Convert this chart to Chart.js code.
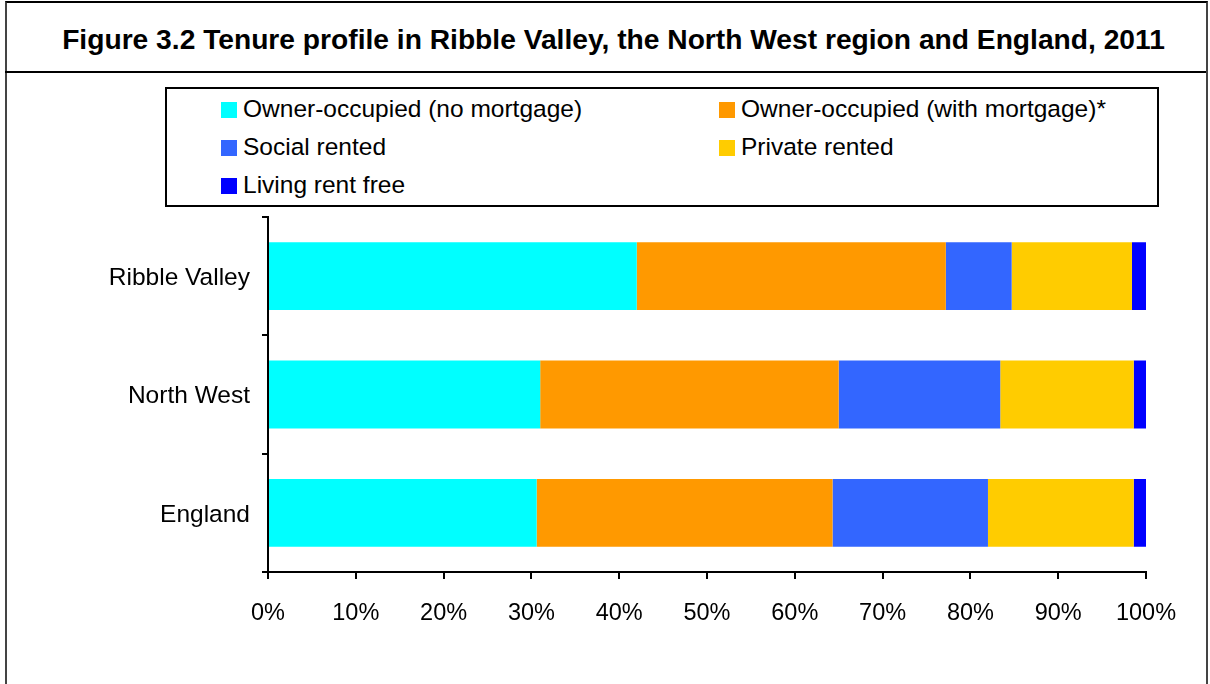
<!DOCTYPE html>
<html>
<head>
<meta charset="utf-8">
<script src="https://cdn.jsdelivr.net/npm/chart.js@4"></script>
<style>
    body { margin: 0; background: #fff; font-family: "Liberation Sans", Arial, sans-serif; }
    #page { position: relative; width: 1210px; height: 684px; overflow: hidden; }
    #frame { position: absolute; left: 5px; top: 1px; width: 1199px; height: 700px;
             border-left: 2px solid #444; border-right: 2px solid #444; border-top: 2px solid #000; }
    #title { position: absolute; left: 5px; top: 3px; width: 1201px; height: 68px; border-bottom: 2px solid #000;
             font-weight: bold; font-size: 28.2px; line-height: 72px; text-align: center; color: #000;
             text-indent: 16px; }
    #legend { position: absolute; left: 165px; top: 87px; width: 990px; height: 116px; border: 2px solid #000; }
    .item { position: absolute; font-size: 24.5px; color: #000; white-space: nowrap; line-height: 24px; }
    .swatch { display: inline-block; width: 16px; height: 16px; margin-right: 6px; vertical-align: -1px; }
    canvas { position: absolute; left: 0; top: 0; }
</style>
</head>
<body>
<div id="page">
    <div id="frame"></div>
    <div id="title">Figure 3.2 Tenure profile in Ribble Valley, the North West region and England, 2011</div>
    <div id="legend"></div>
    <canvas id="chart" width="1210" height="684"></canvas>
</div>
<script>
const categories = ["Ribble Valley", "North West", "England"];
const seriesLabels = ["Owner-occupied (no mortgage)", "Owner-occupied (with mortgage)*",
                      "Social rented", "Private rented", "Living rent free"];
const seriesColors = ["#00FFFF", "#FF9900", "#3366FF", "#FFCC00", "#0000FF"];

const ownedOutright = [42.0, 31.0, 30.6];
const ownedMortgage = [35.2, 34.0, 33.7];
const socialRented = [7.5, 18.4, 17.7];
const privateRented = [13.7, 15.2, 16.6];
const rentFree = [1.6, 1.4, 1.4];

const xTicks = [0, 10, 20, 30, 40, 50, 60, 70, 80, 90, 100];

const seriesValues = [ownedOutright, ownedMortgage, socialRented, privateRented, rentFree];

// legend (two columns, row-wise like the original)
const legend = document.getElementById("legend");
seriesLabels.forEach((label, i) => {
    const item = document.createElement("div");
    item.className = "item";
    item.style.left = (i % 2 === 0 ? 54 : 552) + "px";
    item.style.top = (8 + Math.floor(i / 2) * 38) + "px";
    item.innerHTML = `<span class="swatch" style="background:${seriesColors[i]}"></span>${label}`;
    legend.appendChild(item);
});

const fontFamily = '"Liberation Sans", Arial, sans-serif';

new Chart(document.getElementById("chart"), {
    type: "bar",
    data: {
        labels: categories,
        datasets: seriesValues.map((vals, i) => ({
            label: seriesLabels[i],
            data: vals,
            backgroundColor: seriesColors[i],
            borderWidth: 0,
            categoryPercentage: 1,
            barPercentage: 0.573
        }))
    },
    options: {
        indexAxis: "y",
        responsive: false,
        animation: false,
        layout: { padding: { top: 217, right: 64, left: 0, bottom: 0 } },
        plugins: { legend: { display: false }, tooltip: { enabled: false } },
        scales: {
            x: {
                stacked: true,
                min: 0,
                max: 100,
                afterBuildTicks: axis => { axis.ticks = xTicks.map(v => ({ value: v })); },
                afterFit: axis => { axis.height = 112; },
                ticks: { callback: v => v + "%", color: "#000", font: { family: fontFamily, size: 23.5 },
                         padding: 20, maxRotation: 0 },
                grid: { drawOnChartArea: false, color: "#000", tickLength: 7, lineWidth: 2 },
                border: { color: "#000", width: 2 }
            },
            y: {
                stacked: true,
                afterFit: axis => { axis.width = 268; },
                ticks: { color: "#000", font: { family: fontFamily, size: 24.5 }, padding: 12, labelOffset: 2 },
                grid: { drawOnChartArea: false, color: "#000", tickLength: 6, lineWidth: 2, offset: true },
                border: { color: "#000", width: 2 }
            }
        }
    }
});
</script>
</body>
</html>
